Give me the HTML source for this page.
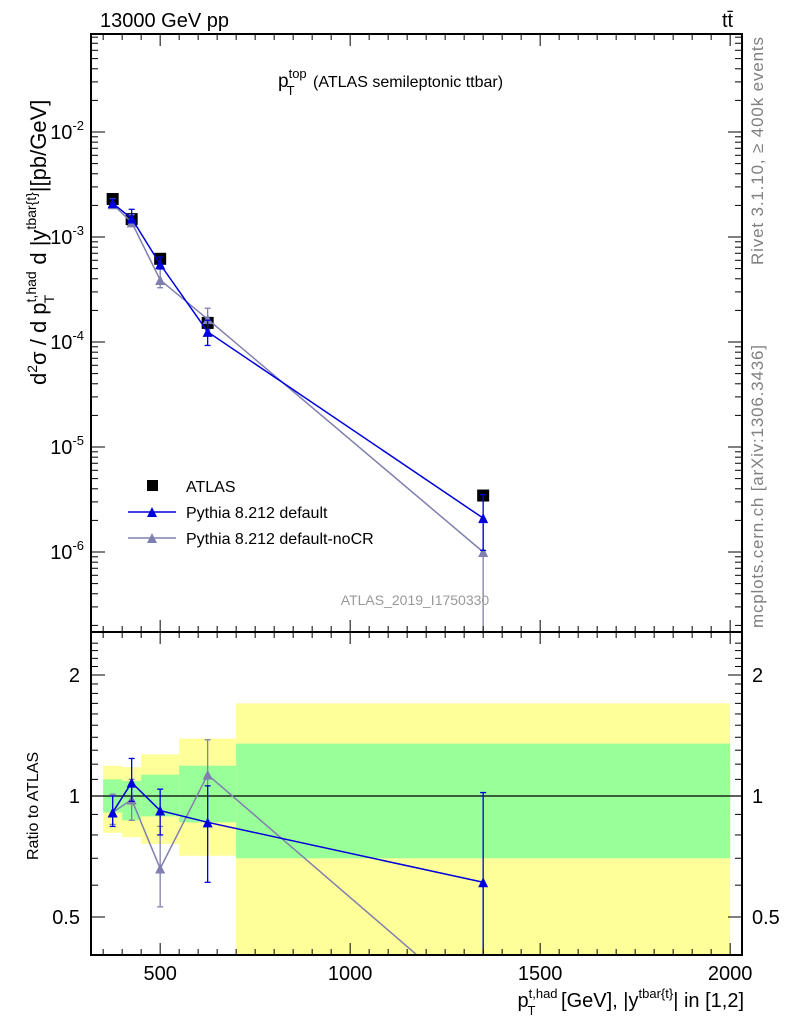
<!DOCTYPE html>
<html><head><meta charset="utf-8"><style>
body{margin:0;background:#fff;font-family:"Liberation Sans",sans-serif}
svg text{font-family:"Liberation Sans","DejaVu Sans",sans-serif}
</style></head><body>
<svg id="c" width="786" height="1024" xmlns="http://www.w3.org/2000/svg">
<g id="bands"></g><g id="marks"></g><g id="axes"></g>
<text x="100" y="27" font-size="20">13000 GeV pp</text>
<text x="722" y="27" font-size="20">tt̄</text>
<text x="278" y="87" font-size="19">p<tspan font-size="13" dy="-9">top</tspan><tspan font-size="13" dx="-20" dy="17">T</tspan><tspan font-size="16" dy="-8" dx="14"> (ATLAS semileptonic ttbar)</tspan></text>
<text transform="translate(763,265) rotate(-90)" font-size="17" fill="#808080" textLength="228">Rivet 3.1.10, ≥ 400k events</text>
<text transform="translate(763,628) rotate(-90)" font-size="17" fill="#808080" textLength="283">mcplots.cern.ch [arXiv:1306.3436]</text>
<text x="415" y="605" font-size="14" fill="#999" text-anchor="middle">ATLAS_2019_I1750330</text>
<text transform="translate(46,385) rotate(-90)" font-size="22">d<tspan font-size="14" dy="-9">2</tspan><tspan dy="9">σ / d p</tspan><tspan font-size="14" dy="-10">t,had</tspan><tspan font-size="14" dx="-32" dy="18">T</tspan><tspan dx="24" dy="-8"> d |y</tspan><tspan font-size="14" dy="-10">tbar{t}</tspan><tspan dy="10">|[pb/GeV]</tspan></text>
<text transform="translate(38,860) rotate(-90)" font-size="16">Ratio to ATLAS</text>
<text x="744" y="1007" font-size="20" text-anchor="end">p<tspan font-size="13" dy="-9">t,had</tspan><tspan font-size="13" dx="-30" dy="17">T</tspan><tspan dx="20" dy="-8"> [GeV], |y</tspan><tspan font-size="13" dy="-9">tbar{t}</tspan><tspan dy="9">| in [1,2]</tspan></text>
<g>
<rect x="147" y="480" width="11" height="11" fill="#000"/>
<text x="186" y="492" font-size="16">ATLAS</text>
<line x1="128" y1="512" x2="176" y2="512" stroke="#0000dd" stroke-width="1.5"/>
<path d="M147 517 L152 507 L157 517Z" fill="#0000dd"/>
<text x="186" y="518" font-size="16">Pythia 8.212 default</text>
<line x1="128" y1="538" x2="176" y2="538" stroke="#8080b0" stroke-width="1.5"/>
<path d="M147 543 L152 533 L157 543Z" fill="#8080b0"/>
<text x="186" y="544" font-size="16">Pythia 8.212 default-noCR</text>
</g>
</svg>
<script>
const xs=[375,425,500,625,1350];
const atlas=[2.3e-3,1.48e-3,6.2e-4,1.52e-4,3.45e-6];
const blue=[2.1e-3,1.5e-3,5.5e-4,1.25e-4,2.1e-6];
const grey=[2.05e-3,1.38e-3,3.9e-4,1.65e-4,1.0e-6];
const blueRatio=[0.91,1.08,0.92,0.86,0.61];
const blueLo=[0.84,0.97,0.80,0.61,0.30];
const blueHi=[1.00,1.24,1.04,1.06,1.02];
const greyRatio=[0.91,0.98,0.66,1.13,0.29];
const greyLo=[0.85,0.87,0.53,0.86,0.01];
const greyHi=[1.01,1.10,0.84,1.38,0.60];
const binEdges=[350,400,450,550,700,2000];
const yelLo=[0.81,0.79,0.76,0.71,0.30];
const yelHi=[1.19,1.18,1.27,1.39,1.70];
const grnLo=[0.91,0.87,0.89,0.86,0.70];
const grnHi=[1.10,1.09,1.13,1.19,1.35];
const xTicks=[500,1000,1500,2000];
const mainTicks=[-6,-5,-4,-3,-2];
const ratioTicks=[0.5,1,2];
const L=91,R=742,T=34,M=632,B=955;
const X=v=>L+(v-318)*0.38;
const Y=v=>132-(Math.log10(v)+2)*105;
const YR=v=>796-Math.log2(v)*121;
const NS="http://www.w3.org/2000/svg";
function mk(p,t,a){const e=document.createElementNS(NS,t);for(const k in a)e.setAttribute(k,a[k]);document.getElementById(p).appendChild(e);return e;}
for(let i=0;i<5;i++){
 const x1=X(binEdges[i]),x2=X(binEdges[i+1]);
 const y=mk('bands','rect',{x:x1,y:YR(yelHi[i]),width:x2-x1,height:Math.min(B,YR(yelLo[i]))-YR(yelHi[i]),fill:'#ffff99'});
 
 
 const g=mk('bands','rect',{x:x1,y:YR(grnHi[i]),width:x2-x1,height:YR(grnLo[i])-YR(grnHi[i]),fill:'#99ff99'});
 
 
}
mk('bands','line',{x1:L,x2:R,y1:YR(1),y2:YR(1),stroke:'#000','stroke-width':1.2});
function tri(x,y,c,name){const p=mk('marks','path',{d:`M${x-5} ${y+5} L${x} ${y-5} L${x+5} ${y+5}Z`,fill:c});}
function err(x,y1,y2,c){mk('marks','line',{x1:x,x2:x,y1:y1,y2:y2,stroke:c,'stroke-width':1.3});mk('marks','line',{x1:x-3,x2:x+3,y1:y1,y2:y1,stroke:c,'stroke-width':1.3});mk('marks','line',{x1:x-3,x2:x+3,y1:y2,y2:y2,stroke:c,'stroke-width':1.3});}
const cl=y=>Math.min(M,y);
atlas.forEach((v,i)=>{const r=mk('marks','rect',{x:X(xs[i])-6,y:Y(v)-6,width:12,height:12,fill:'#000'});});
[[grey,greyLo,greyHi,'#8080b0','nocr'],[blue,blueLo,blueHi,'#0000dd','default']].forEach(([d,lo,hi,c,n])=>{
 mk('marks','polyline',{points:d.map((v,i)=>X(xs[i])+','+Y(v)).join(' '),fill:'none',stroke:c,'stroke-width':1.5});
 d.forEach((v,i)=>{const r=d[i]/atlas[i];err(X(xs[i]),cl(Y(v*hi[i]/r)),cl(Y(Math.max(v*lo[i]/r,1e-8))),c);tri(X(xs[i]),Y(v),c,'mc-'+n+'-point');});
});
[[greyRatio,greyLo,greyHi,'#8080b0','nocr'],[blueRatio,blueLo,blueHi,'#0000dd','default']].forEach(([d,lo,hi,c,n])=>{
 const pts=d.map((v,i)=>[X(xs[i]),YR(v)]);
 const cp=mk('marks','clipPath',{id:'cp'+n});const cr=document.createElementNS(NS,'rect');cr.setAttribute('x',L);cr.setAttribute('y',M);cr.setAttribute('width',R-L);cr.setAttribute('height',B-M);cp.appendChild(cr);
 mk('marks','polyline',{points:pts.map(p=>p.join(',')).join(' '),fill:'none',stroke:c,'stroke-width':1.5,'clip-path':`url(#cp${n})`});
 d.forEach((v,i)=>{err(X(xs[i]),YR(hi[i]),Math.min(B,YR(lo[i])),c);if(YR(v)<B)tri(X(xs[i]),YR(v),c,'ratio-'+n+'-point');});
});
mk('axes','rect',{x:L,y:T,width:R-L,height:M-T,fill:'none',stroke:'#000','stroke-width':2});
mk('axes','rect',{x:L,y:M,width:R-L,height:B-M,fill:'none',stroke:'#000','stroke-width':2});
for(let v=350;v<=2000;v+=50){const x=X(v),big=v%500==0;[[T,1],[M,-1],[M,1],[B,-1]].forEach(([y,s])=>mk('axes','line',{x1:x,x2:x,y1:y,y2:y+s*(big?12:6),stroke:'#000','stroke-width':1}));}
xTicks.forEach(v=>{const t=mk('axes','text',{x:X(v),y:980,'font-size':20,'text-anchor':'middle'});t.textContent=v;});
for(let e=-7;e<=-1;e++)for(let m=1;m<10;m++){const v=m*Math.pow(10,e),y=Y(v);if(y<T||y>M)continue;const w=m==1?14:7;mk('axes','line',{x1:L,x2:L+w,y1:y,y2:y,stroke:'#000'});mk('axes','line',{x1:R,x2:R-w,y1:y,y2:y,stroke:'#000'});}
mainTicks.forEach(e=>{const t=mk('axes','text',{x:84,y:Y(Math.pow(10,e))+7,'font-size':20,'text-anchor':'end'});t.innerHTML=`10<tspan font-size="13" dy="-9">${e}</tspan>`;});
for(let v=0.4;v<=2.5;v+=0.1){const y=YR(v);if(y<M||y>B)continue;const big=Math.abs(v-0.5)<1e-6||Math.abs(v-1)<1e-6||Math.abs(v-2)<1e-6;const w=big?14:7;mk('axes','line',{x1:L,x2:L+w,y1:y,y2:y,stroke:'#000'});mk('axes','line',{x1:R,x2:R-w,y1:y,y2:y,stroke:'#000'});}
ratioTicks.forEach(v=>{[[80,'end'],[752,'start']].forEach(([x,a])=>{const t=mk('axes','text',{x:x,y:YR(v)+7,'font-size':20,'text-anchor':a});t.textContent=v;});});
</script>
</body></html>
